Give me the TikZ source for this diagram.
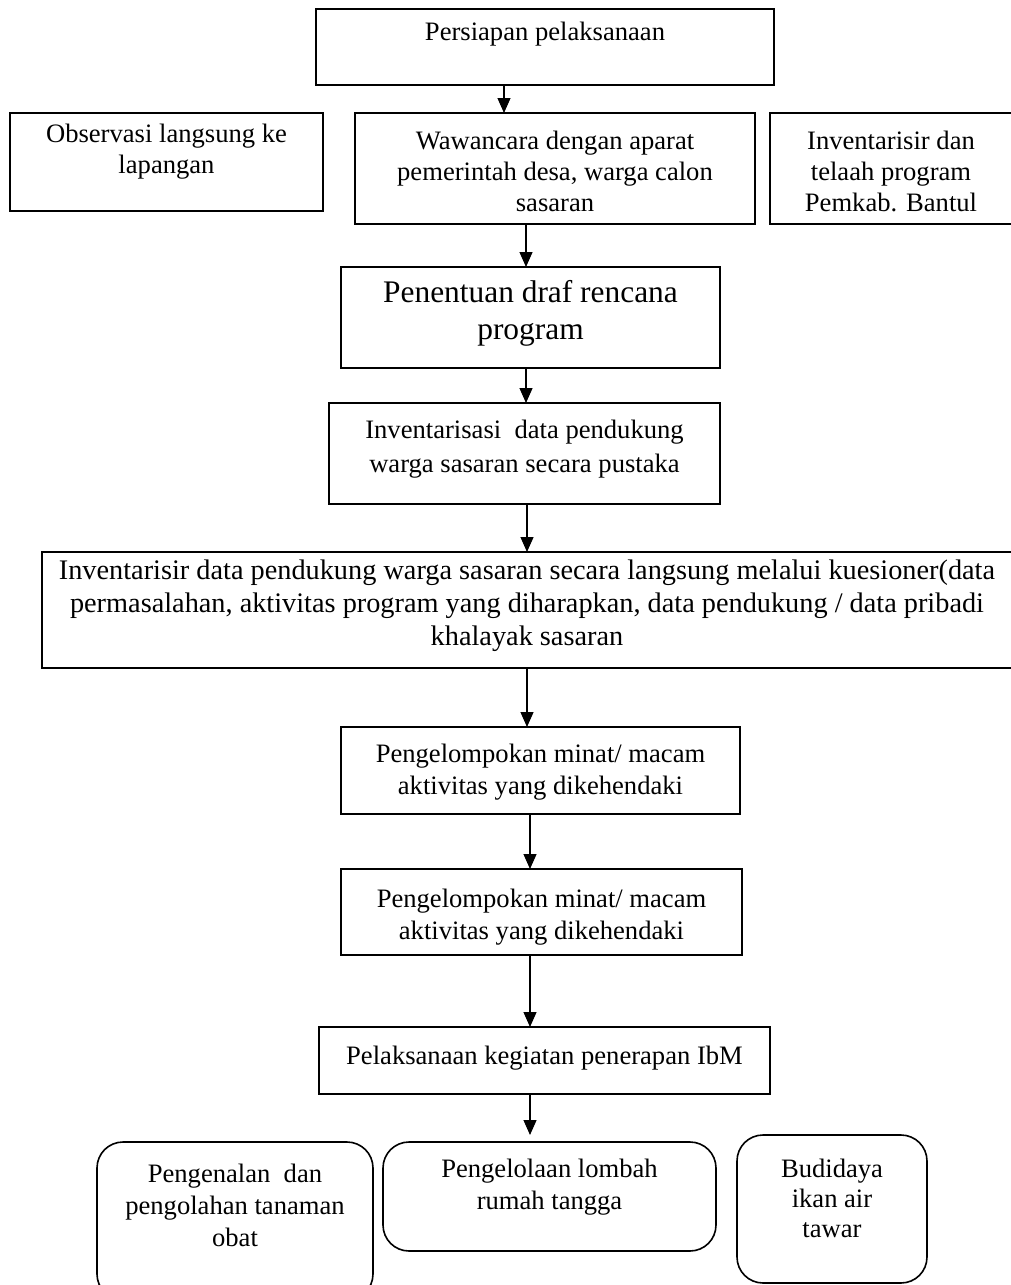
\documentclass[tikz,border=0pt]{standalone}
\usepackage{fontspec}
\setmainfont{Liberation Serif}
\usepackage{tikz}
\usetikzlibrary{arrows.meta,positioning,calc}

\begin{document}
\begin{tikzpicture}[x=1pt,y=-1pt]
\useasboundingbox (0,0) rectangle (1010,1285);
\tikzstyle{box} = [draw, line width=1.6pt, outer sep=0pt, anchor=north west]
\tikzstyle{roundbox} = [box, rounded corners=26pt]
\tikzstyle{txt} = [align=center, inner sep=0pt, anchor=north, font=\fontsize{26.6}{31}\selectfont]
\tikzstyle{bigtxt} = [txt, font=\fontsize{31.4}{36.5}\selectfont]
\tikzstyle{flow} = [line width=1.2pt, -{Triangle[width=13pt,length=15pt]}]
% boxes
\node[box, minimum width=458pt, minimum height=76pt] (prep) at (316,9) {};
\node[box, minimum width=313pt, minimum height=98pt] (obs) at (10,113) {};
\node[box, minimum width=400pt, minimum height=111pt] (wawan) at (355,113) {};
\node[box, minimum width=242pt, minimum height=111pt] (bantul) at (770,113) {};
\node[box, minimum width=379pt, minimum height=101pt] (draf) at (341,267) {};
\node[box, minimum width=391pt, minimum height=101pt] (pustaka) at (329,403) {};
\node[box, minimum width=970pt, minimum height=116pt] (kues) at (42,552) {};
\node[box, minimum width=399pt, minimum height=87pt] (minat1) at (341,727) {};
\node[box, minimum width=401pt, minimum height=86pt] (minat2) at (341,869) {};
\node[box, minimum width=451pt, minimum height=67pt] (ibm) at (319,1027) {};
\node[roundbox, minimum width=276pt, minimum height=158pt] (obat) at (97,1142) {};
\node[roundbox, minimum width=333pt, minimum height=109pt] (limbah) at (383,1142) {};
\node[roundbox, minimum width=190pt, minimum height=148pt] (ikan) at (737,1135) {};
% texts
\node[txt, below=13pt of prep.north] (prep-t) {Persiapan pelaksanaan};
\node[txt, below=11pt of obs.north] (obs-t) {Observasi langsung ke\\lapangan};
\node[txt, below=18pt of wawan.north] (wawan-t) {Wawancara dengan aparat\\pemerintah desa, warga calon\\sasaran};
\node[txt, below=18pt of bantul.north] (bantul-t) {Inventarisir dan\\telaah program\\Pemkab. Bantul};
\node[bigtxt, below=13.5pt of draf.north] (draf-t) {Penentuan draf rencana\\program};
\node[txt, below=17pt of pustaka.north, font=\fontsize{26.6}{34}\selectfont] (pustaka-t) {Inventarisasi\ \ data pendukung\\warga sasaran secara pustaka};
\node[txt, below=8pt of kues.north, font=\fontsize{28.3}{33}\selectfont] (kues-t) {Inventarisir data pendukung warga sasaran secara langsung melalui kuesioner(data\\permasalahan, aktivitas program yang diharapkan, data pendukung / data pribadi\\khalayak sasaran};
\node[txt, below=17pt of minat1.north, font=\fontsize{26.6}{32}\selectfont] (minat1-t) {Pengelompokan minat/ macam\\aktivitas yang dikehendaki};
\node[txt, below=20pt of minat2.north, font=\fontsize{26.6}{32}\selectfont] (minat2-t) {Pengelompokan minat/ macam\\aktivitas yang dikehendaki};
\node[txt, below=19pt of ibm.north] (ibm-t) {Pelaksanaan kegiatan penerapan IbM};
\node[txt, below=22pt of obat.north, font=\fontsize{26.6}{32}\selectfont] (obat-t) {Pengenalan\ \ dan\\pengolahan tanaman\\obat};
\node[txt, below=17pt of limbah.north, font=\fontsize{26.6}{32}\selectfont] (limbah-t) {Pengelolaan lombah\\rumah tangga};
\node[txt, below=24pt of ikan.north, font=\fontsize{26.6}{30}\selectfont] (ikan-t) {Budidaya\\ikan air\\tawar};
% arrows
\coordinate (c1) at (504,0);
\coordinate (c2) at (526,0);
\coordinate (c3) at (527,0);
\coordinate (c4) at (530,0);
\draw[flow] (prep.south -| c1) -- (wawan.north -| c1);
\draw[flow] (wawan.south -| c2) -- (draf.north -| c2);
\draw[flow] (draf.south -| c2) -- (pustaka.north -| c2);
\draw[flow] (pustaka.south -| c3) -- (kues.north -| c3);
\draw[flow] (kues.south -| c3) -- (minat1.north -| c3);
\draw[flow] (minat1.south -| c4) -- (minat2.north -| c4);
\draw[flow] (minat2.south -| c4) -- (ibm.north -| c4);
\draw[flow, shorten >=7pt] (ibm.south -| c4) -- (limbah.north -| c4);
\end{tikzpicture}
\end{document}
